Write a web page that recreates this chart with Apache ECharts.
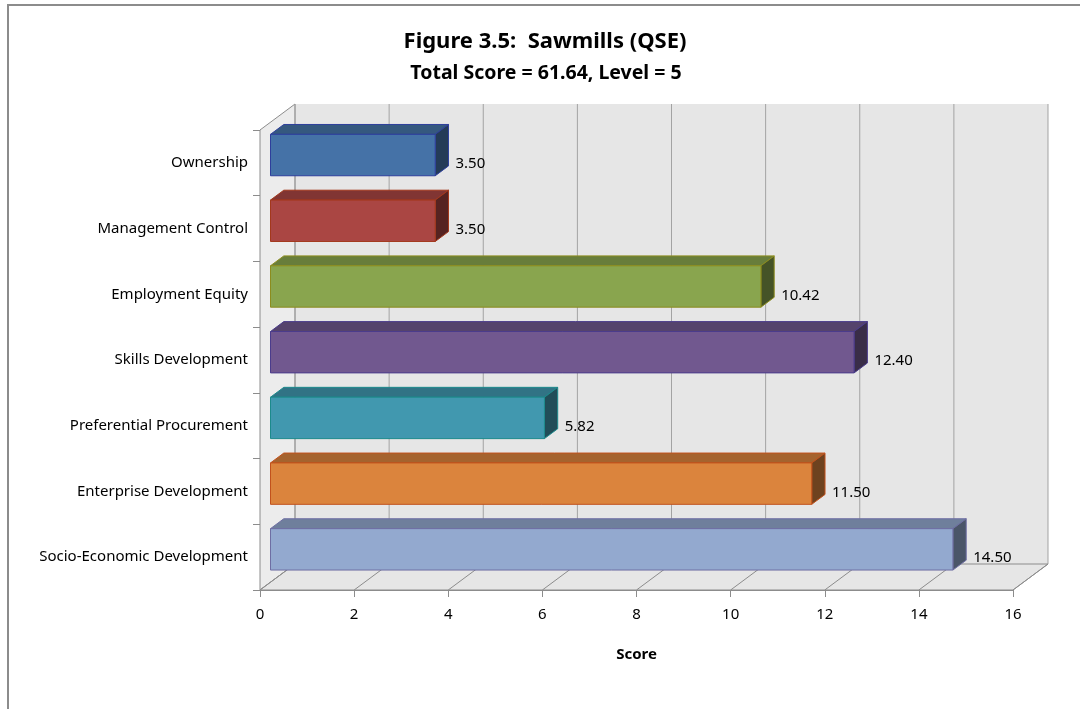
<!DOCTYPE html>
<html>
<head>
<meta charset="utf-8">
<script src="https://cdn.jsdelivr.net/npm/echarts@6/dist/echarts.min.js"></script>
<style>
html,body{margin:0;padding:0;background:#fff;}
#chart{width:1080px;height:709px;}
</style>
</head>
<body>
<div id="chart"></div>
<script>
// data
var categories = ['Ownership','Management Control','Employment Equity','Skills Development','Preferential Procurement','Enterprise Development','Socio-Economic Development'];
var scores = [3.50, 3.50, 10.42, 12.40, 5.82, 11.50, 14.50];
var xTicks = [0, 2, 4, 6, 8, 10, 12, 14, 16];
var titleText = 'Figure 3.5:  Sawmills (QSE)';
var subTitleText = 'Total Score = 61.64, Level = 5';

/*colours per bar: front / top / side / edge*/
var frontCol = ['#4572A7','#AA4643','#89A54E','#71588F','#4198AF','#DB843D','#93A9CF'];
var topCol   = ['#35587F','#813533','#687D3B','#55436C','#317385','#A5632E','#6F7F9C'];
var sideCol  = ['#243B57','#562321','#455327','#392D48','#214D58','#6E421F','#4A5568'];
var edgeCol  = ['#2E3F9C','#A3381C','#8C8C1E','#4B3C8C','#1C8A8C','#C2521C','#6E6EA3'];

var FONT = '"Noto Sans", sans-serif';
var DX = 35, DY = -26;      // full depth of the 3d box
var D1 = 0.3, D2 = 0.68;    // bar front / back depth
var BAR = 0.63;             // bar height as part of band

var myChart = echarts.init(document.getElementById('chart'));

function walls(params, api){
    var cs = params.coordSys;
    var x0 = cs.x, x1 = cs.x + cs.width, yt = cs.y, yb = cs.y + cs.height;
    var gray = '#8c8c8c';
    var kids = [];
    // back wall
    kids.push({type:'polygon', shape:{points:[[x0+DX,yt+DY],[x1+DX,yt+DY],[x1+DX,yb+DY],[x0+DX,yb+DY]]},
        style:{fill:'#e6e6e6', stroke:null}});
    // left wall
    kids.push({type:'polygon', shape:{points:[[x0,yt],[x0+DX,yt+DY],[x0+DX,yb+DY],[x0,yb]]},
        style:{fill:'#ececec', stroke:gray, lineWidth:1}});
    // floor
    kids.push({type:'polygon', shape:{points:[[x0,yb],[x1,yb],[x1+DX,yb+DY],[x0+DX,yb+DY]]},
        style:{fill:'#e6e6e6', stroke:gray, lineWidth:1}});
    for (var i = 0; i < xTicks.length; i++) {
        var px = api.coord([xTicks[i], 0])[0];
        kids.push({type:'line', shape:{x1:px+DX, y1:yt+DY, x2:px+DX, y2:yb+DY},
            style:{stroke:'#a3a3a3', lineWidth:1}});
        kids.push({type:'line', shape:{x1:px, y1:yb, x2:px+DX, y2:yb+DY},
            style:{stroke:gray, lineWidth:1}});
    }
    return {type:'group', children:kids};
}

function bar3d(params, api){
    var i = params.dataIndex;
    var v = api.value(0);
    var c = api.coord([v, api.value(1)]);
    var z = api.coord([0, api.value(1)]);
    var band = api.size([0, 1])[1];
    var h = band * BAR;
    var xa = z[0], xb = c[0], ya = c[1] - h / 2, yb2 = c[1] + h / 2;
    function p(x, y, d){ return [x + DX * d, y + DY * d]; }
    var edge = edgeCol[i];
    return {type:'group', children:[
        {type:'polygon', shape:{points:[p(xa,ya,D1),p(xb,ya,D1),p(xb,ya,D2),p(xa,ya,D2)]},
            style:{fill:topCol[i], stroke:edge, lineWidth:1}},
        {type:'polygon', shape:{points:[p(xb,ya,D1),p(xb,yb2,D1),p(xb,yb2,D2),p(xb,ya,D2)]},
            style:{fill:sideCol[i], stroke:edge, lineWidth:1}},
        {type:'polygon', shape:{points:[p(xa,ya,D1),p(xb,ya,D1),p(xb,yb2,D1),p(xa,yb2,D1)]},
            style:{fill:frontCol[i], stroke:edge, lineWidth:1}},
        {type:'text', x:xb + DX * D2 + 7, y:c[1] + 1,
            style:{text:v.toFixed(2), fill:'#000', font:'15px ' + FONT, verticalAlign:'middle', align:'left'}}
    ]};
}

var barData = [];
for (var k = 0; k < scores.length; k++) barData.push([scores[k], k]);

myChart.setOption({
    animation:false,
    textStyle:{fontFamily:FONT},
    graphic:[
        {type:'rect', shape:{x:8, y:5, width:1200, height:800}, style:{fill:null, stroke:'#8c8c8c', lineWidth:2}},
        {type:'text', x:545, y:42, style:{text:titleText, font:'bold 22px ' + FONT, fill:'#000', align:'center', verticalAlign:'middle'}},
        {type:'text', x:546, y:73, style:{text:subTitleText, font:'bold 19.5px ' + FONT, fill:'#000', align:'center', verticalAlign:'middle'}}
    ],
    grid:{left:260, top:130, width:753, height:460, containLabel:false},
    xAxis:{
        type:'value', min:0, max:16, interval:2,
        name:'Score', nameLocation:'middle', nameGap:57,
        nameTextStyle:{fontWeight:'bold', fontSize:15, color:'#000', fontFamily:FONT},
        axisLine:{show:true, lineStyle:{color:'#8c8c8c'}},
        axisTick:{show:true, length:7, lineStyle:{color:'#8c8c8c'}},
        axisLabel:{color:'#000', fontSize:15, margin:17, fontFamily:FONT},
        splitLine:{show:false}
    },
    yAxis:{
        type:'category', inverse:true, data:categories,
        axisLine:{show:true, lineStyle:{color:'#8c8c8c'}},
        axisTick:{show:true, length:7, lineStyle:{color:'#8c8c8c'}},
        axisLabel:{color:'#000', fontSize:15, margin:12, fontFamily:FONT, padding:[3,0,0,0]},
        splitLine:{show:false}
    },
    series:[
        {type:'custom', renderItem:walls, data:[[0,0]], silent:true, z:1},
        {type:'custom', renderItem:bar3d, data:barData, silent:true, z:3}
    ]
});
</script>
</body>
</html>
